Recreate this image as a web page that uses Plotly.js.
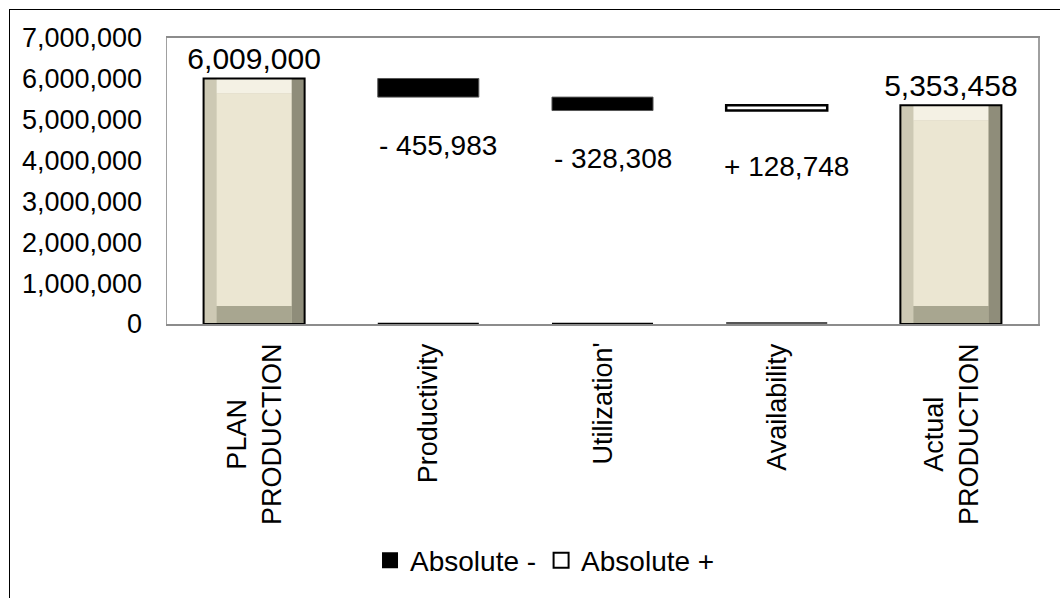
<!DOCTYPE html>
<html>
<head>
<meta charset="utf-8">
<script src="https://cdn.plot.ly/plotly-3.0.1.min.js"></script>
<style>
  html, body { margin: 0; padding: 0; background: #fff; }
  #chart { position: absolute; left: 0; top: 0; width: 1060px; height: 598px; }
  #frame { position: absolute; left: 9px; top: 9px; width: 1200px; height: 800px;
           border-left: 1px solid #000; border-top: 1px solid #000; pointer-events: none; }
</style>
</head>
<body>
<div id="chart"></div>
<div id="frame"></div>
<script>
// ---- data ----
var categories = ['PLAN<br>PRODUCTION', 'Productivity', "Utilization'", 'Availability', 'Actual<br>PRODUCTION'];
var planValue = 6009000;
var deltaCategories = ['Productivity', "Utilization'", 'Availability'];
var absoluteMinus = [455983, 328308, 0];
var absolutePlus = [0, 0, 128748];
var actualValue = 5353458;
var deltaLabelY = [4360000, 4040000, 3850000];   // label placement (value axis)

// ---- derived waterfall geometry (from data) ----
var running = planValue;
var minusBase = [], plusBase = [], deltaText = [];
for (var i = 0; i < deltaCategories.length; i++) {
  var m = absoluteMinus[i], p = absolutePlus[i];
  var low = running - m;
  minusBase.push(m === 0 ? 0 : low);
  running = low;
  plusBase.push(p === 0 ? 0 : running);
  running = running + p;
  deltaText.push(m > 0 ? '- ' + m.toLocaleString('en-US') : '+ ' + p.toLocaleString('en-US'));
}
var totalCats = [categories[0], categories[4]];
var totalVals = [planValue, actualValue];

// ---- bevel styling constants ----
var W = 0.58, half = W / 2;
var insL = 0.075, insR = 0.075;     // category units
var insT = 370000, insB = 440000;   // value units
var FONT = '"Liberation Sans", Arial, sans-serif';

function layer(offset, width, base, top, color) {
  return {
    type: 'bar', x: totalCats,
    y: totalVals.map(function (v) { return top(v) - base(v); }),
    base: totalVals.map(function (v) { return base(v); }),
    offset: offset, width: width,
    marker: { color: color, line: { width: 0 } },
    showlegend: false, hoverinfo: 'skip'
  };
}
function zero() { return 0; }
function full(v) { return v; }

var traces = [
  // right edge (darkest)
  layer(-half, W, zero, full, '#8f8d7a'),
  // left edge
  layer(-half, W - insR, zero, full, '#cdc9b4'),
  // bottom edge
  layer(-half + insL, W - insL - insR, zero, function () { return insB; }, '#a8a690'),
  // top edge highlight
  layer(-half + insL, W - insL - insR, function (v) { return v - insT; }, full, '#f4f1e4'),
  // face
  layer(-half + insL, W - insL - insR, function () { return insB; }, function (v) { return v - insT; }, '#ebe6d2'),
  // outline + value label
  {
    type: 'bar', x: totalCats, y: totalVals, offset: -half, width: W,
    marker: { color: 'rgba(0,0,0,0)', line: { color: '#000', width: 2 } },
    text: totalVals.map(function (v) { return v.toLocaleString('en-US'); }),
    textposition: 'outside', cliponaxis: false, constraintext: 'none',
    textfont: { family: FONT, size: 30, color: '#000' },
    showlegend: false, hoverinfo: 'skip'
  },
  {
    type: 'bar', name: 'Absolute -', x: deltaCategories, y: absoluteMinus, base: minusBase,
    offset: -half, width: W,
    marker: { color: '#000', line: { color: '#555', width: [1, 1, 4] } },
    showlegend: false
  },
  {
    type: 'bar', name: 'Absolute +', x: deltaCategories, y: absolutePlus, base: plusBase,
    offset: -half, width: W,
    marker: { color: '#fff', line: { color: '#000', width: 2.5 } },
    showlegend: false
  },
  // legend entries
  {
    type: 'scatter', mode: 'markers', name: 'Absolute -', x: [null], y: [null],
    marker: { symbol: 'square', size: 16, color: '#000' }, showlegend: true
  },
  {
    type: 'scatter', mode: 'markers', name: 'Absolute +', x: [null], y: [null],
    marker: { symbol: 'square', size: 15, color: '#fff', line: { color: '#000', width: 2 } }, showlegend: true
  }
];

var annotations = [];
categories.forEach(function (c) {
  annotations.push({
    x: c, xref: 'x', y: 0, yref: 'paper', yanchor: 'top', xanchor: 'center',
    yshift: -17, text: c, textangle: -90, showarrow: false, align: 'center',
    font: { family: FONT, size: 27, color: '#000' }
  });
});
deltaCategories.forEach(function (c, i) {
  annotations.push({
    x: c, xref: 'x', y: deltaLabelY[i], yref: 'y', xshift: 10,
    text: deltaText[i], showarrow: false,
    font: { family: FONT, size: 28, color: '#000' }
  });
});

var layout = {
  width: 1060, height: 598,
  margin: { l: 167, r: 22, t: 38, b: 271 },
  paper_bgcolor: 'rgba(0,0,0,0)', plot_bgcolor: '#fff',
  barmode: 'overlay',
  font: { family: FONT, color: '#000' },
  xaxis: {
    type: 'category', categoryorder: 'array', categoryarray: categories,
    range: [-0.5, 4.5], showticklabels: false, ticks: '',
    showline: true, linecolor: '#8c8c8c', linewidth: 2, mirror: true,
    showgrid: false, zeroline: false, fixedrange: true
  },
  yaxis: {
    range: [0, 7000000], dtick: 1000000, tickformat: ',d',
    tickfont: { family: FONT, size: 27, color: '#000' },
    ticks: '', ticklabelstandoff: 18,
    showline: true, linecolor: '#a0a0a0', linewidth: 1.5, mirror: true,
    showgrid: false, zeroline: false, fixedrange: true
  },
  legend: {
    orientation: 'h', x: 0.434, xanchor: 'center', y: -0.74, yanchor: 'top',
    font: { family: FONT, size: 28, color: '#000' },
    itemsizing: 'trace', bgcolor: 'rgba(0,0,0,0)', itemclick: false
  },
  annotations: annotations,
  showlegend: true
};

Plotly.newPlot('chart', traces, layout, { displayModeBar: false, staticPlot: true });
</script>
</body>
</html>
